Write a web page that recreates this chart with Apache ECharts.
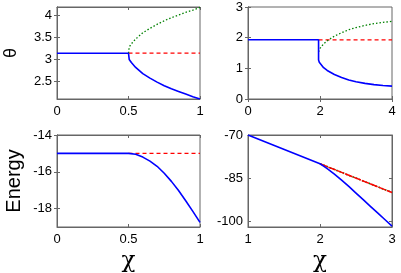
<!DOCTYPE html>
<html><head><meta charset="utf-8">
<script src="https://cdn.jsdelivr.net/npm/echarts@6/dist/echarts.min.js"></script>
<style>html,body{margin:0;padding:0;background:#fff}#c{width:401px;height:273px}</style>
</head><body><div id="c"></div>
<script>
// ---- Top-left panel: theta vs chi (0..1)
const tlBlueX = [0, 0.5, 0.505, 0.52, 0.55, 0.6, 0.65, 0.7, 0.75, 0.8, 0.85, 0.9, 0.95, 1.0];
const tlBlueY = [3.14, 3.14, 3.0, 2.93, 2.82, 2.68, 2.58, 2.49, 2.41, 2.34, 2.28, 2.22, 2.16, 2.11];
const tlGreenX = [0.5, 0.505, 0.52, 0.55, 0.6, 0.65, 0.7, 0.75, 0.8, 0.85, 0.9, 0.95, 1.0];
const tlGreenY = [3.14, 3.28, 3.35, 3.46, 3.60, 3.70, 3.79, 3.87, 3.94, 4.00, 4.06, 4.11, 4.17];
const tlRedX = [0.5, 1.0];
const tlRedY = [3.14, 3.14];
const tlXTicks = [0, 0.5, 1];
const tlYTicks = [2.5, 3, 3.5, 4];

// ---- Top-right panel: theta vs chi (0..4)
const trBlueX = [0, 1.96, 1.96, 1.98, 2.0, 2.1, 2.2, 2.4, 2.6, 2.8, 3.0, 3.25, 3.5, 3.75, 4.0];
const trBlueY = [1.93, 1.93, 1.27, 1.2, 1.14, 1.02, 0.93, 0.80, 0.70, 0.62, 0.56, 0.51, 0.47, 0.44, 0.42];
const trGreenX = [1.96, 2.0, 2.1, 2.24, 2.4, 2.6, 2.8, 3.0, 3.25, 3.5, 3.75, 4.0];
const trGreenY = [1.54, 1.65, 1.80, 1.93, 2.05, 2.16, 2.26, 2.33, 2.40, 2.46, 2.50, 2.53];
const trRedX = [1.96, 4.0];
const trRedY = [1.93, 1.93];
const trXTicks = [0, 2, 4];
const trYTicks = [0, 1, 2, 3];

// ---- Bottom-left panel: energy vs chi (0..1)
const blBlueX = [0, 0.5, 0.55, 0.6, 0.65, 0.7, 0.75, 0.8, 0.85, 0.9, 0.95, 1.0];
const blBlueY = [-15, -15, -15.05, -15.2, -15.42, -15.7, -16.08, -16.52, -17.02, -17.57, -18.15, -18.75];
const blRedX = [0.5, 1.0];
const blRedY = [-15, -15];
const blXTicks = [0, 0.5, 1];
const blYTicks = [-18, -16, -14];

// ---- Bottom-right panel: energy vs chi (1..3)
const brBlueX = [1, 2, 2.05, 2.1, 2.2, 2.3, 2.4, 2.5, 2.6, 2.7, 2.8, 2.9, 3.0];
const brBlueY = [-70, -80, -80.8, -81.7, -83.6, -85.7, -87.9, -90.2, -92.5, -94.8, -97.1, -99.4, -101.7];
const brRedX = [2, 3];
const brRedY = [-80, -90];
const brGreenX = [2, 3];
const brGreenY = [-80, -90];
const brXTicks = [1, 2, 3];
const brYTicks = [-100, -85, -70];

const zip = (xs, ys) => xs.map((x, i) => [x, ys[i]]);

const grids = [
  {left: 57, top: 7, width: 143, height: 92},
  {left: 248, top: 7, width: 144, height: 92},
  {left: 57, top: 135, width: 143, height: 92},
  {left: 248, top: 135, width: 144, height: 92}
];
const ranges = [
  {x: [0, 1], y: [2.11, 4.18], xt: tlXTicks, yt: tlYTicks},
  {x: [0, 4], y: [0, 3], xt: trXTicks, yt: trYTicks},
  {x: [0, 1], y: [-19, -14], xt: blXTicks, yt: blYTicks},
  {x: [1, 3], y: [-102, -70], xt: brXTicks, yt: brYTicks}
];
const boxColor = '#666';
const labelFont = {color: '#000', fontSize: 13, fontFamily: 'Liberation Sans, Arial, sans-serif'};

const xAxis = [], yAxis = [];
ranges.forEach((r, i) => {
  const common = {type: 'value', gridIndex: i, splitLine: {show: false},
    axisLine: {show: true, lineStyle: {color: boxColor, width: 1}}};
  xAxis.push(Object.assign({}, common, {position: 'bottom', min: r.x[0], max: r.x[1],
    axisTick: {inside: true, length: 3, customValues: r.xt, lineStyle: {color: boxColor}},
    axisLabel: Object.assign({customValues: r.xt, margin: 6, formatter: v => String(v)}, labelFont)}));
  xAxis.push(Object.assign({}, common, {position: 'top', min: r.x[0], max: r.x[1],
    axisTick: {inside: true, length: 3, customValues: r.xt, lineStyle: {color: boxColor}},
    axisLabel: {show: false}}));
  yAxis.push(Object.assign({}, common, {position: 'left', min: r.y[0], max: r.y[1],
    axisTick: {inside: true, length: 3, customValues: r.yt, lineStyle: {color: boxColor}},
    axisLabel: Object.assign({customValues: r.yt, margin: 5, formatter: v => String(v)}, labelFont)}));
  yAxis.push(Object.assign({}, common, {position: 'right', min: r.y[0], max: r.y[1],
    axisTick: {inside: true, length: 3, customValues: r.yt, lineStyle: {color: boxColor}},
    axisLabel: {show: false}}));
});

function line(i, data, color, type, width, z) {
  return {type: 'line', xAxisIndex: 2 * i, yAxisIndex: 2 * i, data: data, showSymbol: false,
    symbol: 'none', animation: false, z: z || 2,
    lineStyle: {color: color, width: width || 1.5, type: type || 'solid'}};
}
const BLUE = '#0000ff', RED = '#ff0000', GREEN = '#008000';
const series = [
  line(0, zip(tlRedX, tlRedY), RED, [4, 3], 1.3),
  line(0, zip(tlGreenX, tlGreenY), GREEN, [1.5, 2], 1.3),
  line(0, zip(tlBlueX, tlBlueY), BLUE, 'solid', 1.6, 3),
  line(1, zip(trRedX, trRedY), RED, [4, 3], 1.3),
  line(1, zip(trGreenX, trGreenY), GREEN, [1.5, 2], 1.3),
  line(1, zip(trBlueX, trBlueY), BLUE, 'solid', 1.6, 3),
  line(2, zip(blRedX, blRedY), RED, [4, 3], 1.3),
  line(2, zip(blBlueX, blBlueY), BLUE, 'solid', 1.6, 3),
  line(3, zip(brGreenX, brGreenY), GREEN, [1.5, 2], 1.6),
  line(3, zip(brRedX, brRedY), RED, [8, 1], 1.5),
  line(3, zip(brBlueX, brBlueY), BLUE, 'solid', 1.6, 3)
];

const chart = echarts.init(document.getElementById('c'), null, {renderer: 'canvas'});
chart.setOption({
  animation: false,
  backgroundColor: '#fff',
  grid: grids.map(g => Object.assign({show: true, borderColor: boxColor, borderWidth: 1, backgroundColor: 'transparent'}, g)),
  xAxis: xAxis,
  yAxis: yAxis,
  series: series,
  graphic: [
    {type: 'text', x: 11, y: 53, rotation: Math.PI / 2,
      style: {text: 'θ', fill: '#000', font: '18px "Liberation Sans", Arial, sans-serif', align: 'center', verticalAlign: 'middle'}},
    {type: 'text', x: 14, y: 181, rotation: Math.PI / 2,
      style: {text: 'Energy', fill: '#000', font: '20px "Liberation Sans", Arial, sans-serif', align: 'center', verticalAlign: 'middle'}},
    {type: 'text', x: 128.5, y: 261,
      style: {text: 'χ', fill: '#000', font: '23px "DejaVu Serif", "Liberation Serif", serif', align: 'center', verticalAlign: 'middle'}},
    {type: 'text', x: 320, y: 261,
      style: {text: 'χ', fill: '#000', font: '23px "DejaVu Serif", "Liberation Serif", serif', align: 'center', verticalAlign: 'middle'}}
  ]
});
</script></body></html>
